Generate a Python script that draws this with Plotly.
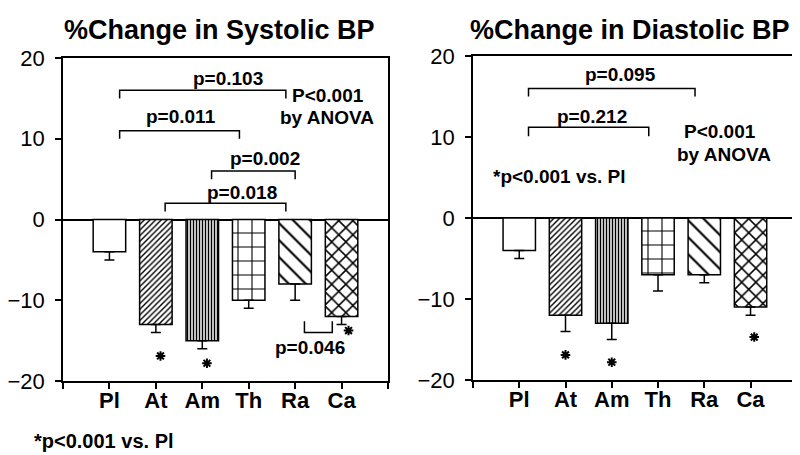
import plotly.graph_objects as go

# ---------------- data ----------------
cats = ["Pl", "At", "Am", "Th", "Ra", "Ca"]
sys_mean = [-4, -13, -15, -10, -8, -12]
sys_err = [1, 1, 1, 1, 2, 1]
dia_mean = [-4, -12, -13, -7, -7, -11]
dia_err = [1, 2, 2, 2, 1, 1]

y_ticks = [-20, -10, 0, 10, 20]

# bracket: (x_start, x_end, bar_y, leg_y, label, label_x, label_y)
sys_brackets = [
    (0.22, 3.8, 16, 15, "p=0.103", 2.55, 17.5),
    (0.22, 2.8, 11, 10, "p=0.011", 1.55, 12.7),
    (2.2, 4.0, 6, 5, "p=0.002", 3.34, 7.5),
    (1.2, 3.8, 2, 1, "p=0.018", 2.85, 3.3),
    (4.2, 4.8, -14, -12.6, "p=0.046", 4.31, -15.8),
]
dia_brackets = [
    (0.2, 3.8, 16, 15, "p=0.095", 2.18, 17.7),
    (0.2, 2.8, 11.2, 10.1, "p=0.212", 1.58, 12.5),
]
sys_stars_x = [1.1, 2.1, 5.15]
sys_stars_y = [-16.9, -17.8, -13.75]
dia_stars_x = [1.0, 2.0, 5.08]
dia_stars_y = [-16.9, -17.8, -14.7]

# text notes: (text, x, y) in data units
sys_notes = [("P<0.001", 4.71, 15.4), ("by ANOVA", 4.68, 12.6)]
dia_notes = [("P<0.001", 4.33, 10.7), ("by ANOVA", 4.42, 7.8),
             ("*p<0.001 vs. Pl", 0.87, 5.1)]

titles = ["%Change in Systolic BP", "%Change in Diastolic BP"]
footnote = "*p<0.001 vs. Pl"

# ---------------- style ----------------
FONT = "Liberation Sans, Arial, Helvetica, sans-serif"
pat_shapes = ["", "/", "|", "+", "\\", "x"]
pat_sizes = [8, 4, 3, 14, 12, 10]
pat_solid = [0.3, 0.35, 0.5, 0.15, 0.18, 0.28]

xpos = list(range(len(cats)))

fig = go.Figure()


def add_panel(means, errs, xa, ya):
    fig.add_trace(go.Bar(
        x=xpos, y=means, width=0.7,
        marker=dict(color="white", line=dict(color="black", width=1.5),
                    pattern=dict(shape=pat_shapes, size=pat_sizes,
                                 solidity=pat_solid, fgcolor="black",
                                 bgcolor="white", fillmode="replace")),
        error_y=dict(type="data", symmetric=False,
                     array=[0] * len(errs), arrayminus=errs,
                     color="black", thickness=1.5, width=5),
        xaxis=xa, yaxis=ya, showlegend=False))


add_panel(sys_mean, sys_err, "x", "y")
add_panel(dia_mean, dia_err, "x2", "y2")

for sx, sy, xa, ya in [(sys_stars_x, sys_stars_y, "x", "y"),
                       (dia_stars_x, dia_stars_y, "x2", "y2")]:
    fig.add_trace(go.Scatter(
        x=sx, y=sy, mode="markers", xaxis=xa, yaxis=ya, showlegend=False,
        marker=dict(symbol="asterisk-open", size=8, color="black",
                    line=dict(color="black", width=2))))

shapes = []
annotations = []
for brs, xr, yr in [(sys_brackets, "x", "y"), (dia_brackets, "x2", "y2")]:
    for x0, x1, yb, yl, lab, lx, ly in brs:
        shapes.append(dict(type="path", xref=xr, yref=yr,
                           path=f"M {x0},{yl} L {x0},{yb} L {x1},{yb} L {x1},{yl}",
                           line=dict(color="black", width=1.5)))
        annotations.append(dict(text=lab, x=lx, y=ly, xref=xr, yref=yr,
                                showarrow=False, yanchor="middle",
                                xanchor="center",
                                font=dict(family=FONT, size=19, color="black",
                                          weight="bold")))

for notes, xr, yr in [(sys_notes, "x", "y"), (dia_notes, "x2", "y2")]:
    for t, nx, ny in notes:
        annotations.append(dict(text=t, x=nx, y=ny, xref=xr, yref=yr,
                                showarrow=False, yanchor="middle",
                                xanchor="center",
                                font=dict(family=FONT, size=19, color="black",
                                          weight="bold")))

for t, tx in zip(titles, [0.264, 0.7775]):
    annotations.append(dict(text=t, x=tx, y=0.952, xref="paper", yref="paper",
                            showarrow=False, yanchor="middle", xanchor="center",
                            font=dict(family=FONT, size=27, color="black",
                                      weight="bold")))

annotations.append(dict(text=footnote, x=0.12, y=0.048, xref="paper",
                        yref="paper", showarrow=False, yanchor="middle",
                        xanchor="center",
                        font=dict(family=FONT, size=20, color="black",
                                  weight="bold")))

# gray right border of right panel
shapes.append(dict(type="line", xref="x2 domain", yref="y2 domain",
                   x0=1, x1=1, y0=-0.025, y1=1,
                   line=dict(color="#9a9a9a", width=2.5)))

xaxis_common = dict(range=[-1, 6], tickvals=[-1] + xpos + [6],
                    ticktext=[""] + cats + [""], ticks="outside", ticklen=6,
                    tickwidth=1.5, tickcolor="black", showline=True,
                    linecolor="black", linewidth=1.5, showgrid=False,
                    zeroline=False, automargin=False, ticklabelstandoff=-7,
                    tickfont=dict(family=FONT, size=22, color="black",
                                  weight="bold"))
yaxis_common = dict(range=[-20, 20], tickvals=y_ticks, ticks="outside",
                    ticklen=6, tickwidth=1.5, tickcolor="black",
                    showline=True, linecolor="black", linewidth=1.5,
                    showgrid=False, zeroline=True, zerolinecolor="black",
                    zerolinewidth=1.5, automargin=False, ticklabelstandoff=6,
                    tickfont=dict(family=FONT, size=22, color="black"))

fig.update_layout(
    width=800, height=455,
    margin=dict(l=0, r=0, t=0, b=0),
    paper_bgcolor="white", plot_bgcolor="white",
    xaxis=dict(domain=[0.06875, 0.475], anchor="y", mirror=True,
               **xaxis_common),
    yaxis=dict(domain=[0.1802, 0.8901], anchor="x", mirror=True,
               **yaxis_common),
    xaxis2=dict(domain=[0.58125, 0.986], anchor="y2", mirror=True,
                **xaxis_common),
    yaxis2=dict(domain=[0.1824, 0.8945], anchor="x2", mirror=False,
                **yaxis_common),
    shapes=shapes, annotations=annotations,
    bargap=0.3,
)

fig.write_html("out.html")
